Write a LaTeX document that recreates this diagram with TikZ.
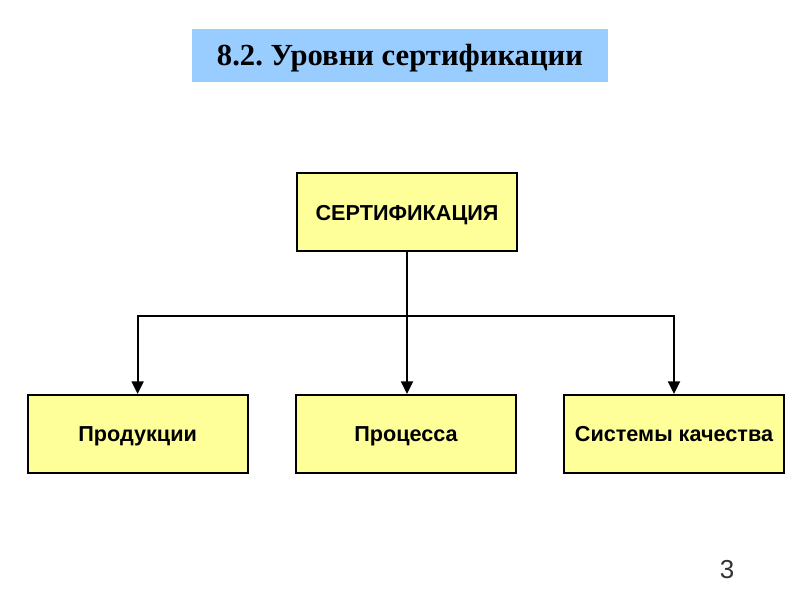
\documentclass[tikz,border=0pt]{standalone}
\usepackage{fontspec}
\setmainfont{Liberation Serif}
\setsansfont{Liberation Sans}
\usetikzlibrary{arrows.meta}
\definecolor{titleblue}{HTML}{99CCFF}
\definecolor{boxyellow}{HTML}{FFFF99}
\definecolor{pagegray}{HTML}{333333}
\frenchspacing

\begin{document}
\begin{tikzpicture}[
    niveau/.style={draw=black, line width=1.4pt, fill=boxyellow, minimum width=5.5cm, minimum height=1.95cm,
        text height=11pt, text depth=0pt, font=\sffamily\bfseries\fontsize{15.4}{18}\selectfont},
    fleche/.style={line width=1.4pt, -{Triangle[length=9pt,width=8.5pt]}}
]
    \useasboundingbox (0,0) rectangle (20,15);

    % Titre
    \node[fill=titleblue, minimum width=10.4cm, minimum height=1.325cm, text height=14pt, text depth=0pt,
        font=\bfseries\fontsize{21.8}{26}\selectfont] (titre) at (10,13.61) {8.2. Уровни сертификации};

    % Bloc principal
    \node[niveau] (cert) at (10.175,9.69) {СЕРТИФИКАЦИЯ};

    % Niveaux
    \node[niveau] (prod) at (3.44,4.15) {Продукции};
    \node[niveau] (proc) at (10.15,4.15) {Процесса};
    \node[niveau] (syst) at (16.85,4.15) {Системы качества};

    % Branchement
    \coordinate (branche) at (cert.south |- 0,7.1);
    \draw[fleche] (cert.south) -- (cert.south |- proc.north);
    \draw[fleche] (branche) -| (prod.north);
    \draw[fleche] (branche) -| (syst.north);

    % Numero de page
    \node[text=pagegray, font=\sffamily\fontsize{18.5}{22}\selectfont] (page) at (18.175,0.75) {3};
\end{tikzpicture}
\end{document}
